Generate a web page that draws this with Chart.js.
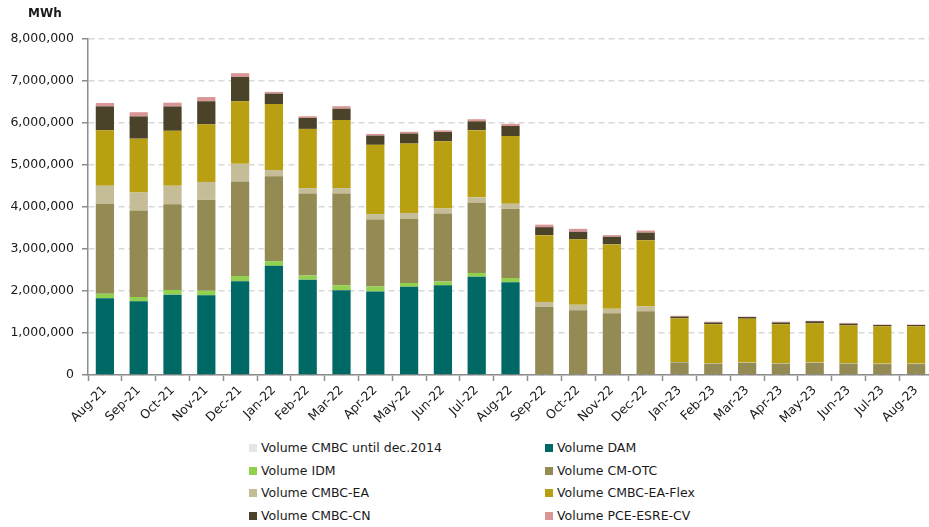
<!DOCTYPE html>
<html lang="en">
<head>
    <meta charset="UTF-8">
    <title>Traded volumes</title>
    <style>
        body {
            margin: 0;
            padding: 0;
            background: #ffffff;
            overflow: hidden;
            font-family: "DejaVu Sans", Verdana, sans-serif;
            color: #1a1a1a;
        }
        #wrap {
            position: relative;
            width: 934px;
            height: 527px;
        }
        #unit {
            position: absolute;
            left: 28px;
            top: 6px;
            font-size: 12px;
            font-weight: bold;
        }
        #chart {
            position: absolute;
            left: 0;
            top: 0;
        }
        #legend {
            position: absolute;
            left: 249px;
            top: 437px;
            width: 600px;
        }
        .item {
            position: absolute;
            font-size: 12.5px;
            white-space: nowrap;
            line-height: 22px;
        }
        .item span.box {
            display: inline-block;
            width: 8px;
            height: 8px;
            margin-right: 4px;
            vertical-align: 0px;
        }
    </style>
</head>
<body>
    <div id="wrap">
        <canvas id="chart" width="934" height="431"></canvas>
        <div id="unit">MWh</div>
        <div id="legend"></div>
    </div>

    <script src="https://cdn.jsdelivr.net/npm/chart.js"></script>
    <script>
        const months = ['Aug-21', 'Sep-21', 'Oct-21', 'Nov-21', 'Dec-21', 'Jan-22', 'Feb-22', 'Mar-22',
            'Apr-22', 'May-22', 'Jun-22', 'Jul-22', 'Aug-22', 'Sep-22', 'Oct-22', 'Nov-22', 'Dec-22',
            'Jan-23', 'Feb-23', 'Mar-23', 'Apr-23', 'May-23', 'Jun-23', 'Jul-23', 'Aug-23'];

        // volumes in MWh
        const cmbcOld = [0, 0, 0, 0, 0, 0, 0, 0, 0, 0, 0, 0, 0, 0, 0, 0, 0, 0, 0, 0, 0, 0, 0, 0, 0];
        const dam = [1826000, 1754000, 1913000, 1897000, 2230000, 2600000, 2270000, 2020000, 1990000,
            2100000, 2135000, 2340000, 2210000, 0, 0, 0, 0, 0, 0, 0, 0, 0, 0, 0, 0];
        const idm = [110000, 103000, 111000, 111000, 127000, 110000, 100000, 120000, 120000,
            90000, 90000, 90000, 100000, 0, 0, 0, 0, 0, 0, 0, 0, 0, 0, 0, 0];
        const cmOtc = [2140000, 2060000, 2040000, 2160000, 2250000, 2020000, 1950000, 2180000, 1590000,
            1530000, 1620000, 1670000, 1650000, 1620000, 1540000, 1470000, 1520000,
            300000, 270000, 290000, 270000, 290000, 270000, 260000, 260000];
        const cmbcEa = [430000, 430000, 440000, 430000, 420000, 150000, 130000, 130000, 130000,
            140000, 120000, 130000, 120000, 120000, 130000, 110000, 120000,
            10000, 10000, 10000, 10000, 10000, 10000, 10000, 10000];
        const cmbcEaFlex = [1320000, 1280000, 1310000, 1370000, 1490000, 1570000, 1410000, 1620000, 1650000,
            1650000, 1600000, 1600000, 1610000, 1590000, 1560000, 1530000, 1570000,
            1040000, 930000, 1040000, 930000, 930000, 900000, 890000, 890000];
        const cmbcCn = [570000, 530000, 580000, 550000, 580000, 250000, 260000, 270000, 220000,
            240000, 220000, 210000, 240000, 190000, 180000, 180000, 180000,
            40000, 40000, 40000, 40000, 50000, 40000, 30000, 30000];
        const pceEsre = [80000, 100000, 90000, 100000, 90000, 40000, 40000, 60000, 40000,
            40000, 40000, 50000, 50000, 60000, 70000, 40000, 50000,
            20000, 20000, 10000, 20000, 10000, 20000, 10000, 10000];

        const seriesNames = ['Volume CMBC until dec.2014', 'Volume DAM', 'Volume IDM', 'Volume CM-OTC',
            'Volume CMBC-EA', 'Volume CMBC-EA-Flex', 'Volume CMBC-CN', 'Volume PCE-ESRE-CV'];
        const seriesData = [cmbcOld, dam, idm, cmOtc, cmbcEa, cmbcEaFlex, cmbcCn, pceEsre];
        const seriesColors = ['#e6e6e6', '#006965', '#92d050', '#948a54', '#c4bd97', '#b9a013', '#4a4229', '#d99694'];

        Chart.defaults.font.family = '"DejaVu Sans", Verdana, sans-serif';
        Chart.defaults.font.size = 12.5;
        Chart.defaults.color = '#1a1a1a';

        const axisGray = '#8c8c8c';

        const chart = new Chart(document.getElementById('chart'), {
            type: 'bar',
            data: {
                labels: months,
                datasets: seriesNames.map((name, i) => ({
                    label: name,
                    data: seriesData[i],
                    backgroundColor: seriesColors[i],
                    borderWidth: 0,
                    barPercentage: 0.54,
                    categoryPercentage: 1.0
                }))
            },
            options: {
                responsive: false,
                animation: false,
                layout: { padding: { left: 8, top: 39, right: 1, bottom: 0 } },
                plugins: {
                    legend: { display: false },
                    tooltip: { enabled: false }
                },
                scales: {
                    x: {
                        stacked: true,
                        grid: {
                            offset: true,
                            drawOnChartArea: false,
                            drawTicks: true,
                            tickLength: 6,
                            tickColor: axisGray,
                            tickWidth: 1.5
                        },
                        border: { color: axisGray, width: 1.5 },
                        ticks: {
                            maxRotation: 45,
                            minRotation: 45,
                            autoSkip: false,
                            padding: 2
                        },
                        afterFit: s => { s.height = 56; }
                    },
                    y: {
                        stacked: true,
                        min: 0,
                        max: 8000000,
                        grid: {
                            color: '#d9d9d9',
                            lineWidth: 1.5,
                            drawTicks: true,
                            tickLength: 6,
                            tickColor: axisGray,
                            tickWidth: 1.5,
                            tickBorderDash: [1, 0]
                        },
                        border: { color: axisGray, width: 1.5, dash: [6, 4] },
                        ticks: {
                            stepSize: 1000000,
                            padding: 8,
                            callback: v => v.toLocaleString('en-US')
                        },
                        afterFit: s => { s.width = 80; }
                    }
                }
            }
        });

        // legend in two columns, row by row like the original
        const legendDiv = document.getElementById('legend');
        chart.data.datasets.forEach((ds, i) => {
            const item = document.createElement('div');
            item.className = 'item';
            item.style.left = (i % 2 === 0 ? 0 : 296) + 'px';
            item.style.top = (Math.floor(i / 2) * 22.6) + 'px';
            const box = document.createElement('span');
            box.className = 'box';
            box.style.background = ds.backgroundColor;
            item.appendChild(box);
            item.appendChild(document.createTextNode(ds.label));
            legendDiv.appendChild(item);
        });
    </script>
</body>
</html>
